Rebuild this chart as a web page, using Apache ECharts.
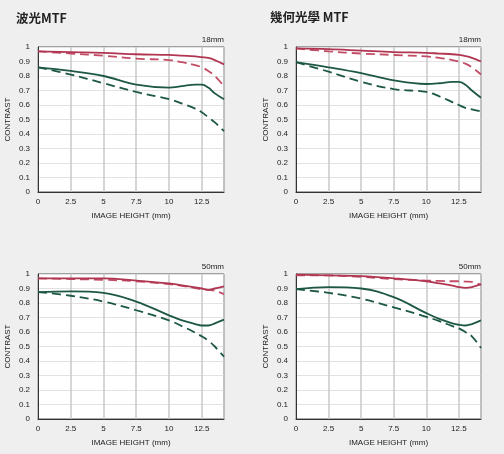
<!DOCTYPE html>
<html><head><meta charset="utf-8">
<script src="https://cdn.jsdelivr.net/npm/echarts@6/dist/echarts.min.js"></script>
<style>html,body{margin:0;padding:0;background:#efefef}#c{width:504px;height:454px}</style>
</head><body><div id="c"></div>
<script>
// Image height positions (mm)
const heights = [0, 2.5, 5, 7.5, 10, 11, 12, 12.5, 13, 13.5, 14.2];
const xTicks = [0, 2.5, 5, 7.5, 10, 12.5];
const titles = ['波光MTF', '幾何光學 MTF'];
const focals = ['18mm', '18mm', '50mm', '50mm'];

// 18mm diffraction (wave) MTF
const w18_redSolid   = [0.97, 0.965, 0.96, 0.95, 0.945, 0.94, 0.935, 0.93, 0.925, 0.91, 0.88];
const w18_redDash    = [0.97, 0.955, 0.94, 0.92, 0.91, 0.895, 0.875, 0.86, 0.835, 0.80, 0.73];
const w18_greenSolid = [0.86, 0.835, 0.80, 0.74, 0.72, 0.73, 0.74, 0.74, 0.72, 0.68, 0.64];
const w18_greenDash  = [0.86, 0.81, 0.75, 0.69, 0.64, 0.61, 0.575, 0.55, 0.515, 0.48, 0.42];
// 18mm geometric MTF
const g18_redSolid   = [0.99, 0.985, 0.975, 0.965, 0.96, 0.955, 0.95, 0.945, 0.937, 0.925, 0.90];
const g18_redDash    = [0.99, 0.97, 0.955, 0.945, 0.935, 0.925, 0.91, 0.90, 0.885, 0.86, 0.81];
const g18_greenSolid = [0.895, 0.86, 0.82, 0.77, 0.745, 0.75, 0.76, 0.76, 0.74, 0.70, 0.65];
const g18_greenDash  = [0.895, 0.83, 0.76, 0.71, 0.69, 0.66, 0.62, 0.60, 0.58, 0.57, 0.555];
// 50mm diffraction (wave) MTF
const w50_redSolid   = [0.97, 0.97, 0.97, 0.955, 0.935, 0.922, 0.908, 0.90, 0.89, 0.90, 0.915];
const w50_redDash    = [0.97, 0.965, 0.96, 0.95, 0.93, 0.918, 0.903, 0.895, 0.89, 0.885, 0.86];
const w50_greenSolid = [0.875, 0.88, 0.87, 0.81, 0.715, 0.68, 0.655, 0.645, 0.645, 0.66, 0.685];
const w50_greenDash  = [0.875, 0.85, 0.81, 0.75, 0.68, 0.64, 0.595, 0.57, 0.54, 0.50, 0.43];
// 50mm geometric MTF
const g50_redSolid   = [0.995, 0.99, 0.985, 0.97, 0.95, 0.935, 0.92, 0.91, 0.905, 0.91, 0.93];
const g50_redDash    = [0.99, 0.99, 0.98, 0.965, 0.955, 0.952, 0.95, 0.95, 0.948, 0.945, 0.925];
const g50_greenSolid = [0.895, 0.91, 0.90, 0.84, 0.73, 0.69, 0.66, 0.65, 0.645, 0.655, 0.68];
const g50_greenDash  = [0.895, 0.87, 0.83, 0.77, 0.705, 0.675, 0.64, 0.625, 0.60, 0.57, 0.49];

const panels = [
  [w18_redSolid, w18_redDash, w18_greenSolid, w18_greenDash],
  [g18_redSolid, g18_redDash, g18_greenSolid, g18_greenDash],
  [w50_redSolid, w50_redDash, w50_greenSolid, w50_greenDash],
  [g50_redSolid, g50_redDash, g50_greenSolid, g50_greenDash]
];

const RED = '#b03652', RED_D = '#c24d66', GREEN = '#1d5843', GREEN_D = '#1d5843';
const gridPos = [
  {left: 38, top: 47, width: 186, height: 145},
  {left: 296, top: 47, width: 185, height: 145},
  {left: 38, top: 274, width: 186, height: 145},
  {left: 296, top: 274, width: 185, height: 145}
];
const font = 'Liberation Sans, Arial, sans-serif';
const grids = [], xAxes = [], yAxes = [], series = [], graphics = [];
gridPos.forEach((g, i) => {
  grids.push(Object.assign({show: true, backgroundColor: '#ffffff', borderColor: '#555', borderWidth: 1}, g));
  xAxes.push({
    type: 'value', gridIndex: i, min: 0, max: 14.2, interval: 2.5,
    name: 'IMAGE HEIGHT (mm)', nameLocation: 'middle', nameGap: 20,
    nameTextStyle: {fontSize: 8, color: '#222', fontFamily: font},
    axisLine: {lineStyle: {color: '#333', width: 1}},
    axisTick: {show: false},
    axisLabel: {fontSize: 8, color: '#222', margin: 6, showMaxLabel: false, fontFamily: font,
      formatter: v => xTicks.indexOf(v) >= 0 ? String(v) : ''},
    splitLine: {show: true, lineStyle: {color: '#c8c8c8', width: 1.5}}
  });
  yAxes.push({
    type: 'value', gridIndex: i, min: 0, max: 1, interval: 0.1,
    name: 'CONTRAST', nameLocation: 'middle', nameGap: 26, nameRotate: 90,
    nameTextStyle: {fontSize: 8, color: '#222', fontFamily: font},
    axisLine: {show: true, lineStyle: {color: '#333', width: 1}},
    axisTick: {show: false},
    axisLabel: {fontSize: 8, color: '#222', margin: 8, fontFamily: font,
      formatter: v => String(Math.round(v * 10) / 10)},
    splitLine: {show: true, lineStyle: {color: '#e2e2e2', width: 1}}
  });
  const styles = [
    {color: RED, type: 'solid'}, {color: RED_D, type: [9, 5]},
    {color: GREEN, type: 'solid'}, {color: GREEN_D, type: [9, 5]}
  ];
  panels[i].forEach((vals, k) => {
    series.push({
      type: 'line', xAxisIndex: i, yAxisIndex: i, smooth: 0.4, symbol: 'none', silent: true,
      data: heights.map((h, j) => [h, vals[j]]),
      lineStyle: {color: styles[k].color, type: styles[k].type, width: 1.8},
      z: 4 - k
    });
  });
  graphics.push({type: 'text', right: 504 - (g.left + g.width), top: g.top - 11,
    style: {text: focals[i], fontSize: 8, fill: '#222', fontFamily: font}});
});

const chart = echarts.init(document.getElementById('c'));
chart.setOption({
  backgroundColor: '#efefef',
  animation: false,
  title: [
    {text: titles[0], left: 11, top: 7, textStyle: {fontSize: 12.5, fontWeight: 'bold', color: '#222', fontFamily: 'Noto Sans CJK TC, sans-serif'}},
    {text: titles[1], left: 265, top: 6, textStyle: {fontSize: 12.5, fontWeight: 'bold', color: '#222', fontFamily: 'Noto Sans CJK TC, sans-serif'}}
  ],
  grid: grids, xAxis: xAxes, yAxis: yAxes, series: series,
  graphic: graphics
});
</script></body></html>
